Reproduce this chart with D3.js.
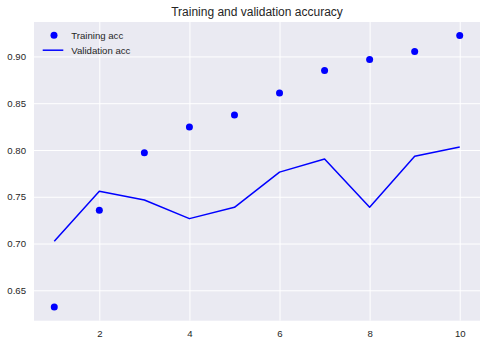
<!DOCTYPE html>
<html>
<head>
<meta charset="utf-8">
<script src="https://cdn.jsdelivr.net/npm/d3@7/dist/d3.min.js"></script>
<style>
  html, body { margin: 0; padding: 0; background: #ffffff; }
  svg { display: block; }
  text { font-family: "Liberation Sans", Arial, sans-serif; fill: #262626; }
</style>
</head>
<body>
<svg id="chart" width="487" height="345"></svg>
<script>
// Epochs and accuracy per epoch
const epochs = [1, 2, 3, 4, 5, 6, 7, 8, 9, 10];
const trainingAcc = [0.632, 0.7355, 0.797, 0.8245, 0.8375, 0.861, 0.885, 0.8968, 0.9053, 0.9223];
const validationAcc = [0.7025, 0.7558, 0.7465, 0.7266, 0.7387, 0.7763, 0.7904, 0.7388, 0.7932, 0.8032];
const xTicks = [2, 4, 6, 8, 10];
const yTicks = [0.65, 0.70, 0.75, 0.80, 0.85, 0.90];
const titleText = "Training and validation accuracy";
const legendLabels = ["Training acc", "Validation acc"];

const svg = d3.select("#chart");
const margin = { left: 34, right: 7, top: 22, bottom: 24.3 };
const W = 487, H = 345;
const innerW = W - margin.left - margin.right;
const innerH = H - margin.top - margin.bottom;

// Axis limits padded by 5% of the data span, as matplotlib does
const xMin = d3.min(epochs), xMax = d3.max(epochs);
const xPad = (xMax - xMin) * 0.05;
const allY = trainingAcc.concat(validationAcc);
const yMin = d3.min(allY), yMax = d3.max(allY);
const yPad = (yMax - yMin) * 0.05;

const x = d3.scaleLinear().domain([xMin - xPad, xMax + xPad]).range([0, innerW]);
const y = d3.scaleLinear().domain([yMin - yPad, yMax + yPad]).range([innerH, 0]);

const g = svg.append("g").attr("transform", `translate(${margin.left},${margin.top})`);

// Plot background
g.append("rect").attr("width", innerW).attr("height", innerH).attr("fill", "#EAEAF2");

// Grid lines
g.append("g")
  .attr("transform", `translate(0,${innerH})`)
  .call(d3.axisBottom(x).tickValues(xTicks).tickSize(-innerH).tickFormat(""))
  .call(a => a.select(".domain").remove())
  .call(a => a.selectAll("line").attr("stroke", "#ffffff").attr("stroke-width", 1));
g.append("g")
  .call(d3.axisLeft(y).tickValues(yTicks).tickSize(-innerW).tickFormat(""))
  .call(a => a.select(".domain").remove())
  .call(a => a.selectAll("line").attr("stroke", "#ffffff").attr("stroke-width", 1));

// Tick labels
const xAxis = g.append("g")
  .attr("transform", `translate(0,${innerH})`)
  .call(d3.axisBottom(x).tickValues(xTicks).tickSize(0).tickPadding(9).tickFormat(d3.format("d")));
xAxis.select(".domain").remove();
xAxis.selectAll("text").attr("font-size", "9.6px").attr("fill", "#262626")
  .style("font-family", "'Liberation Sans', Arial, sans-serif");

const yAxis = g.append("g")
  .call(d3.axisLeft(y).tickValues(yTicks).tickSize(0).tickPadding(8).tickFormat(d3.format(".2f")));
yAxis.select(".domain").remove();
yAxis.selectAll("text").attr("font-size", "9.6px").attr("fill", "#262626")
  .style("font-family", "'Liberation Sans', Arial, sans-serif");

// Validation line
g.append("path")
  .datum(epochs.map((e, i) => [e, validationAcc[i]]))
  .attr("fill", "none")
  .attr("stroke", "#0000ff")
  .attr("stroke-width", 1.5)
  .attr("stroke-linejoin", "round")
  .attr("d", d3.line().x(d => x(d[0])).y(d => y(d[1])));

// Training points
g.selectAll("circle.train")
  .data(epochs.map((e, i) => [e, trainingAcc[i]]))
  .join("circle")
  .attr("class", "train")
  .attr("cx", d => x(d[0]))
  .attr("cy", d => y(d[1]))
  .attr("r", 3.5)
  .attr("fill", "#0000ff");

// Title
svg.append("text")
  .attr("x", margin.left + innerW / 2)
  .attr("y", 16)
  .attr("text-anchor", "middle")
  .attr("font-size", "12px")
  .text(titleText);

// Legend
const lg = svg.append("g").attr("transform", `translate(${margin.left},${margin.top})`);
lg.append("circle").attr("cx", 20).attr("cy", 13.3).attr("r", 3.5).attr("fill", "#0000ff");
lg.append("line").attr("x1", 8.7).attr("x2", 29.3).attr("y1", 28.2).attr("y2", 28.2)
  .attr("stroke", "#0000ff").attr("stroke-width", 1.5);
lg.append("text").attr("x", 37.3).attr("y", 13.3).attr("dy", "0.35em")
  .attr("font-size", "9.6px").text(legendLabels[0]);
lg.append("text").attr("x", 37.3).attr("y", 28.2).attr("dy", "0.35em")
  .attr("font-size", "9.6px").text(legendLabels[1]);
</script>
</body>
</html>
